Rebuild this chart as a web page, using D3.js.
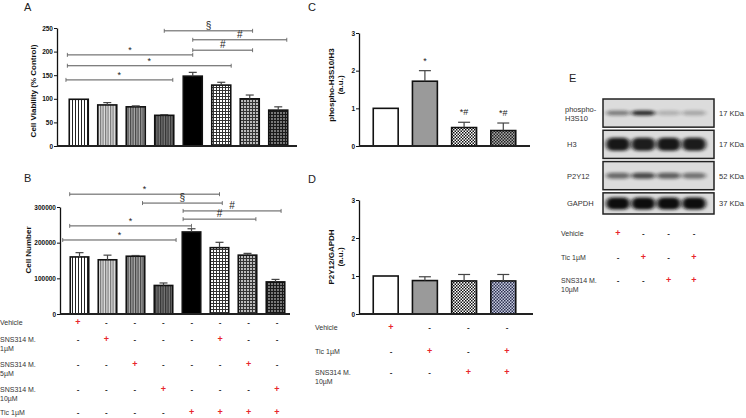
<!DOCTYPE html>
<html><head><meta charset="utf-8">
<script src="https://cdn.jsdelivr.net/npm/d3@7"></script>
<style>
body{margin:0;background:#fff}
svg{font-family:"Liberation Sans",Arial,sans-serif}
</style></head><body>
<svg id="c" width="746" height="418"></svg>
<script>
// ---------- DATA ----------
const groupsAB = ["Vehicle","SNS 1µM","SNS 5µM","SNS 10µM","Tic","Tic+SNS 1µM","Tic+SNS 5µM","Tic+SNS 10µM"];
const viability = [99, 87, 83, 65, 148, 129, 100, 76];
const viabilityErr = [0, 5, 2, 1.5, 8, 6, 8, 7];
const viabilityTicks = [0, 50, 100, 150, 200, 250];
const cellNumber = [160000, 152000, 162000, 80000, 230000, 186000, 165000, 90000];
const cellNumberErr = [12000, 13000, 2000, 7000, 9000, 15000, 5000, 7000];
const cellNumberTicks = [0, 100000, 200000, 300000];
// brackets: [from (category units), to, level (data units), label]
const bracketsA = [[3, 6.1, 244, "§"], [4, 7.3, 225, "#"], [4, 6.1, 203, "#"], [-0.4, 4, 193, "*"], [-0.4, 5.35, 170, "*"], [-0.45, 3.3, 140, "*"]];
const bracketsB = [[-0.35, 5, 336000, "*"], [2.25, 5.1, 311000, "§"], [3.7, 7.2, 289000, "#"], [3.7, 6.3, 266000, "#"], [-0.35, 4, 247000, "*"], [-0.6, 3.45, 207500, "*"]];
const tableABLabels = [["Vehicle"], ["SNS314 M.", "1µM"], ["SNS314 M.", "5µM"], ["SNS314 M.", "10µM"], ["Tic 1µM"]];
const tableABSigns = [
  "+-------",
  "-+---+--",
  "--+---+-",
  "---+---+",
  "----++++"];

const groupsCD = ["Vehicle", "Tic", "SNS", "Tic+SNS"];
const phosphoRatio = [1.0, 1.72, 0.49, 0.41];
const phosphoErr = [0, 0.28, 0.14, 0.2];
const phosphoSig = ["", "*", "*#", "*#"];
const p2y12Ratio = [1.0, 0.88, 0.87, 0.87];
const p2y12Err = [0, 0.1, 0.17, 0.17];
const ratioTicks = [0, 1, 2, 3];
const tableCDLabels = [["Vehicle"], ["Tic 1µM"], ["SNS314 M.", "10µM"]];
const tableCDSigns = ["+---", "-+-+", "--++"];

const blotNames = [["phospho-", "H3S10"], ["H3"], ["P2Y12"], ["GAPDH"]];
const blotKDa = ["17 KDa", "17 KDa", "52 KDa", "37 KDa"];
const blotIntensity = [
  [0.45, 0.85, 0.2, 0.25],
  [0.95, 0.92, 0.95, 0.93],
  [0.55, 0.7, 0.6, 0.5],
  [1, 1, 1, 1]];

// ---------- DRAW ----------
const svg = d3.select("#c");
const defs = svg.append("defs");
const FONT = "'Liberation Sans', Arial, sans-serif";

function stripe(id, bg, fg, w, lw) {
  const p = defs.append("pattern").attr("id", id).attr("patternUnits", "userSpaceOnUse").attr("width", w).attr("height", 4);
  p.append("rect").attr("width", w).attr("height", 4).attr("fill", bg);
  p.append("rect").attr("x", 0).attr("width", lw).attr("height", 4).attr("fill", fg);
}
function grid(id, line, cell) {
  const p = defs.append("pattern").attr("id", id).attr("patternUnits", "userSpaceOnUse").attr("width", 3).attr("height", 3);
  p.append("rect").attr("width", 3).attr("height", 3).attr("fill", line);
  p.append("rect").attr("x", 1).attr("y", 1).attr("width", 2).attr("height", 2).attr("fill", cell);
}
function checker(id, a, b, s) {
  const p = defs.append("pattern").attr("id", id).attr("patternUnits", "userSpaceOnUse").attr("width", 2 * s).attr("height", 2 * s);
  p.append("rect").attr("width", 2 * s).attr("height", 2 * s).attr("fill", a);
  p.append("rect").attr("width", s).attr("height", s).attr("fill", b);
  p.append("rect").attr("x", s).attr("y", s).attr("width", s).attr("height", s).attr("fill", b);
}
stripe("s1", "#fff", "#222", 3, 1);
stripe("s2", "#e0e0e0", "#777", 2.5, 1.2);
stripe("s3", "#aaa", "#444", 2.5, 1.2);
stripe("s4", "#777", "#333", 2.5, 1.2);
grid("g1", "#333", "#fff");
grid("g2", "#333", "#bbb");
grid("g3", "#1a1a1a", "#777");
checker("k1", "#fff", "#111", 1.5);
checker("k2", "#aaa", "#222", 1.5);
checker("k3", "#c8cce0", "#2c3150", 1.5);
const blur = defs.append("filter").attr("id", "blur").attr("x", "-50%").attr("y", "-100%").attr("width", "200%").attr("height", "300%");
blur.append("feGaussianBlur").attr("stdDeviation", "2.2 1.4");

const fillsAB = ["url(#s1)", "url(#s2)", "url(#s3)", "url(#s4)", "#000", "url(#g1)", "url(#g2)", "url(#g3)"];
const fillsC = ["#fff", "#9a9a9a", "url(#k1)", "url(#k2)"];
const fillsD = ["#fff", "#9a9a9a", "url(#k1)", "url(#k3)"];

function letter(t, x, y) {
  svg.append("text").attr("x", x).attr("y", y).attr("font-size", 11).attr("fill", "#222").text(t);
}

function barPanel(o) {
  const g = svg.append("g");
  const x = d3.scaleBand().domain(o.cats).range(o.xr).paddingInner(o.pin).paddingOuter(o.pout);
  const y = d3.scaleLinear().domain(o.dom).range(o.yr);
  const step = x.step();
  const cx = i => x(o.cats[0]) + x.bandwidth() / 2 + i * step;
  g.selectAll("rect.bar").data(o.vals).join("rect")
    .attr("x", (d, i) => x(o.cats[i])).attr("width", x.bandwidth())
    .attr("y", d => y(d)).attr("height", d => y(0) - y(d))
    .attr("fill", (d, i) => o.fills[i]).attr("stroke", "#111").attr("stroke-width", 1.6);
  o.vals.forEach((v, i) => {
    if (!o.err[i]) return;
    const c = x(o.cats[i]) + x.bandwidth() / 2;
    g.append("line").attr("x1", c).attr("x2", c).attr("y1", y(v)).attr("y2", y(v + o.err[i])).attr("stroke", "#444").attr("stroke-width", 1.2);
    g.append("line").attr("x1", c - o.cap).attr("x2", c + o.cap).attr("y1", y(v + o.err[i])).attr("y2", y(v + o.err[i])).attr("stroke", "#444").attr("stroke-width", 1.2);
  });
  const ax = g.append("g").attr("transform", `translate(${o.axisX},0)`)
    .call(d3.axisLeft(y).tickValues(o.ticks).tickSize(3).tickSizeOuter(0).tickPadding(1).tickFormat(d3.format("d")));
  ax.attr("font-family", FONT).attr("font-size", 6.5).attr("font-weight", "bold");
  ax.select(".domain").attr("stroke", "#111").attr("stroke-width", 1.3);
  ax.selectAll(".tick line").attr("stroke", "#111").attr("stroke-width", 1);
  ax.selectAll(".tick text").attr("fill", "#111");
  g.append("line").attr("x1", o.axisX).attr("x2", o.xEnd).attr("y1", y(0)).attr("y2", y(0)).attr("stroke", "#222").attr("stroke-width", 2);
  const lab = g.append("text").attr("transform", `translate(${o.labX},${o.labY}) rotate(-90)`)
    .attr("text-anchor", "middle").attr("font-size", 8).attr("font-weight", "bold").attr("fill", "#111");
  o.label.forEach((l, k) => lab.append("tspan").attr("x", 0).attr("dy", k ? 9 : 0).text(l));
  (o.brackets || []).forEach(b => {
    const x1 = cx(b[0]), x2 = cx(b[1]), yy = y(b[2]);
    g.append("line").attr("x1", x1).attr("x2", x2).attr("y1", yy).attr("y2", yy).attr("stroke", "#555").attr("stroke-width", 1);
    [x1, x2].forEach(xx => g.append("line").attr("x1", xx).attr("x2", xx).attr("y1", yy - 2).attr("y2", yy + 2).attr("stroke", "#555").attr("stroke-width", 0.8));
    g.append("text").attr("x", (x1 + x2) / 2).attr("y", yy - 2).attr("text-anchor", "middle")
      .attr("font-size", b[3] === "*" ? 9 : 10).attr("fill", "#222").text(b[3]);
  });
  (o.sig || []).forEach((s, i) => {
    if (!s) return;
    const c = x(o.cats[i]) + x.bandwidth() / 2;
    g.append("text").attr("x", c).attr("y", y(o.vals[i] + o.err[i]) - 7).attr("text-anchor", "middle")
      .attr("font-size", 9).attr("fill", "#222").text(s);
  });
  return x;
}

function table(labels, signs, xs, labelX, rowYs) {
  const g = svg.append("g").attr("font-size", 7).attr("fill", "#333");
  labels.forEach((l, r) => {
    const t = g.append("text").attr("x", labelX).attr("y", rowYs[r]);
    l.forEach((s, k) => t.append("tspan").attr("x", labelX).attr("dy", k ? 9 : 0).text(s));
    signs[r].split("").forEach((s, c) => {
      g.append("text").attr("x", xs(c)).attr("y", rowYs[r]).attr("text-anchor", "middle")
        .attr("font-size", s === "+" ? 9 : 8).attr("font-weight", "bold")
        .attr("fill", s === "+" ? "#e8262b" : "#222").text(s);
    });
  });
}

// Panel A
letter("A", 24, 11);
barPanel({cats: groupsAB, vals: viability, err: viabilityErr, fills: fillsAB, xr: [64.5, 292.5], pin: 0.333, pout: 0.167,
  dom: [0, 250], yr: [146, 28], ticks: viabilityTicks, axisX: 57, xEnd: 297, cap: 4,
  label: ["Cell Viability (% Control)"], labX: 36, labY: 91, brackets: bracketsA});

// Panel B
letter("B", 24, 182);
barPanel({cats: groupsAB, vals: cellNumber, err: cellNumberErr, fills: fillsAB, xr: [65.5, 289.5], pin: 0.34, pout: 0.17,
  dom: [0, 300000], yr: [314, 207], ticks: cellNumberTicks, axisX: 60, xEnd: 290, cap: 4,
  label: ["Cell Number"], labX: 31, labY: 250, brackets: bracketsB});
table(tableABLabels, tableABSigns, d3.scaleLinear().domain([0, 7]).range([78, 277]), 0, [325, 342, 367, 392, 415]);

// Panel C
letter("C", 308, 11);
barPanel({cats: groupsCD, vals: phosphoRatio, err: phosphoErr, fills: fillsC, xr: [366, 523], pin: 0.364, pout: 0.185,
  dom: [0, 3], yr: [146, 33], ticks: ratioTicks, axisX: 359, xEnd: 530, cap: 6,
  label: ["phospho-H3S10/H3", "(a.u.)"], labX: 334, labY: 85, sig: phosphoSig});

// Panel D
letter("D", 308, 183);
barPanel({cats: groupsCD, vals: p2y12Ratio, err: p2y12Err, fills: fillsD, xr: [366, 523], pin: 0.364, pout: 0.185,
  dom: [0, 3], yr: [314, 200], ticks: ratioTicks, axisX: 359, xEnd: 533, cap: 6,
  label: ["P2Y12/GAPDH", "(a.u.)"], labX: 334, labY: 257});
table(tableCDLabels, tableCDSigns, d3.scaleLinear().domain([0, 3]).range([391, 507]), 315, [330, 354, 375]);

// Panel E (western blot)
letter("E", 569, 82);
const boxY = d3.scaleBand().domain(d3.range(blotNames.length)).range([99, 221]).paddingInner(0.1);
const lane = d3.scaleLinear().domain([0, 3]).range([618, 694]);
const bandH = [5, 13, 6, 12];
blotNames.forEach((nm, r) => {
  const y0 = boxY(r), h = boxY.bandwidth() - (r === 3 ? 7 : 0);
  svg.append("rect").attr("x", 603).attr("y", y0).attr("width", 111).attr("height", h)
    .attr("fill", "#dcdcdc").attr("stroke", "#222").attr("stroke-width", 1.5);
  const cy = y0 + h / 2;
  blotIntensity[r].forEach((v, l) => {
    svg.append("rect").attr("x", lane(l) - 12).attr("y", cy - bandH[r] / 2).attr("width", 24).attr("height", bandH[r])
      .attr("rx", 6).attr("fill", "#111").attr("opacity", v).attr("filter", "url(#blur)");
  });
  const t = svg.append("text").attr("x", 565).attr("y", nm.length > 1 ? cy - 1 : cy + 3).attr("font-size", 7.5).attr("fill", "#333");
  nm.forEach((s, k) => t.append("tspan").attr("x", nm.length > 1 ? 565 : 567).attr("dy", k ? 9 : 0).text(s));
  svg.append("text").attr("x", 719).attr("y", cy + 3).attr("font-size", 7.5).attr("fill", "#333").text(blotKDa[r]);
});
table(tableCDLabels, tableCDSigns, lane, 561, [236, 260, 283]);
</script></body></html>
